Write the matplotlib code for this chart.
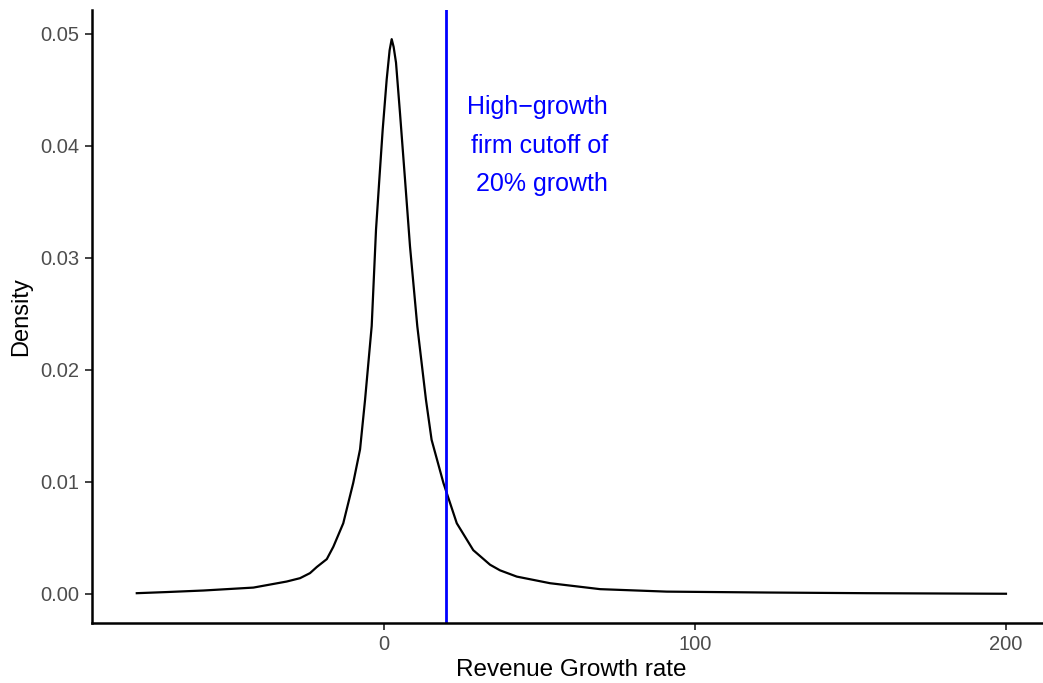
import numpy as np
import matplotlib.pyplot as plt

# density curve (growth rate in %, density)
growth = [-79.5, -70, -58, -42, -31.3, -27, -23.8, -21.6, -18.4, -16.3,
          -13.1, -9.9, -7.7, -6.1, -3.96, -2.57, -1.5, -0.43, 0.86, 1.8,
          2.47, 3.1, 3.86, 5.14, 6.75, 8.36, 10.7, 13.5, 15.3, 19.1, 23.4,
          28.7, 34.1, 37.3, 42.7, 53.4, 69.5, 90.9, 123, 155, 200]
density = [0.00006, 0.00016, 0.0003, 0.00056, 0.0011, 0.0014, 0.00185, 0.0024,
           0.0031, 0.0042, 0.0063, 0.0099, 0.0129, 0.0173, 0.0239, 0.0325,
           0.037, 0.0414, 0.0459, 0.0485, 0.0495, 0.0488, 0.0474, 0.0429,
           0.037, 0.031, 0.0239, 0.0173, 0.01375, 0.0099, 0.0063, 0.0039,
           0.0026, 0.0021, 0.00154, 0.00095, 0.00042, 0.0002, 0.00012,
           0.00006, 0.00001]
cutoff = 20
xticks = [0, 100, 200]
yticks = [0.00, 0.01, 0.02, 0.03, 0.04, 0.05]

plt.rcParams['font.family'] = ['Liberation Sans', 'DejaVu Sans']

fig = plt.figure(figsize=(10.43, 6.83), dpi=100)
ax = fig.add_axes([92/1043, 60/683, 957.5/1043, 613/683])

ax.plot(growth, density, color='black', lw=1.6, solid_joinstyle='round')
ax.axvline(cutoff, color='#0000FF', lw=2.0)
ax.text(72, 0.0400, "High\u2212growth\nfirm cutoff of\n20% growth",
        color='#0000FF', fontsize=18, ha='right', va='center',
        multialignment='right', linespacing=1.75)

ax.set_xlim(-93.9, 214)
ax.set_ylim(-0.0026, 0.0521)
ax.set_xticks(xticks)
ax.set_yticks(yticks)
ax.set_yticklabels([f"{v:.2f}" for v in yticks])

for s in ['top', 'right']:
    ax.spines[s].set_visible(False)
for s in ['left', 'bottom']:
    ax.spines[s].set_linewidth(1.8)
ax.tick_params(axis='both', length=5, width=1.3, color='#333333',
               labelcolor='#4D4D4D', labelsize=14.5, pad=4)

ax.set_xlabel("Revenue Growth rate", fontsize=17.5, labelpad=3)
ax.set_ylabel("Density", fontsize=17, labelpad=6)

fig.savefig("out.png", dpi=100)
